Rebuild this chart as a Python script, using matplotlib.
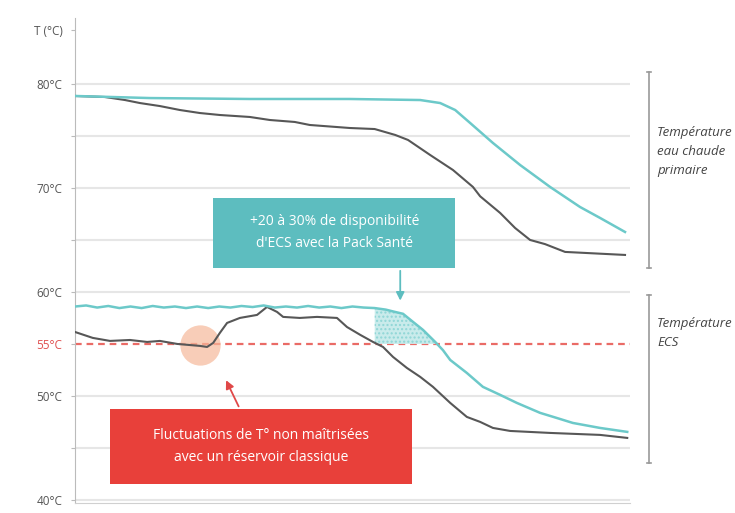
import numpy as np
import matplotlib
matplotlib.use('Agg')
import matplotlib.pyplot as plt
from matplotlib.patches import Rectangle

plt.rcParams['font.family'] = ['Open Sans', 'DejaVu Sans']

# Primary hot water temperature (upper pair of curves)
prim_x_pack = [0, 13.5, 31.5, 49.5, 62.2, 65.8, 68.5, 71.2, 75.3, 80.2, 85.6,
               91.0, 94.6, 99.1]
prim_y_pack = [78.85, 78.65, 78.56, 78.56, 78.46, 78.17, 77.5, 76.25, 74.33,
               72.21, 70.1, 68.17, 67.12, 65.77]
prim_x_std = [0, 5.4, 9.0, 11.7, 15.3, 18.9, 22.5, 26.1, 31.5, 35.1, 39.6,
              42.3, 49.5, 54.0, 57.7, 60.0, 64.0, 68.1, 71.7, 73.0, 76.6,
              79.3, 82.0, 84.7, 88.3, 99.1]
prim_y_std = [78.85, 78.75, 78.46, 78.17, 77.88, 77.5, 77.21, 77.02, 76.83,
              76.54, 76.35, 76.06, 75.77, 75.67, 75.1, 74.62, 73.17, 71.73,
              70.1, 69.2, 67.6, 66.15, 65.0, 64.6, 63.85, 63.56]

# Domestic hot water (ECS) temperature (lower pair of curves)
ecs_x_pack = [0, 2, 4, 6, 8, 10, 12, 14, 16, 18, 20, 22, 24, 26, 28, 30, 32,
              34, 36, 38, 40, 42, 44, 46, 48, 50, 52, 54, 56, 57.5, 59.1,
              60.9, 62.7, 64.9, 66.3, 67.6, 70.6, 73.5, 76.6, 79.6, 83.8,
              86.8, 89.7, 94.6, 99.5]
ecs_y_pack = [58.6, 58.7, 58.5, 58.65, 58.45, 58.6, 58.45, 58.65, 58.5,
              58.6, 58.45, 58.6, 58.45, 58.6, 58.5, 58.65, 58.55, 58.7,
              58.5, 58.6, 58.5, 58.65, 58.5, 58.6, 58.45, 58.6, 58.5, 58.45,
              58.3, 58.1, 57.9, 57.12, 56.35, 55.19, 54.4, 53.46, 52.21,
              50.87, 50.1, 49.33, 48.37, 47.88, 47.4, 46.92, 46.54]
ecs_x_std = [0, 3.2, 6.3, 9.9, 13.0, 15.3, 18.4, 22.5, 23.8, 24.9, 26.1,
             27.4, 29.7, 32.8, 34.6, 36.4, 37.5, 40.5, 43.6, 47.2, 49.0, 51.4,
             53.7, 55.5, 57.3, 59.8, 62.2, 64.5, 67.6, 70.6, 73.0, 75.3, 78.4,
             85.6, 94.6, 99.5]
ecs_y_std = [56.15, 55.58, 55.29, 55.38, 55.19, 55.29, 55.0, 54.81, 54.71,
             55.1, 56.06, 57.02, 57.5, 57.79, 58.56, 58.08, 57.6, 57.5, 57.6,
             57.5, 56.63, 55.87, 55.19, 54.71, 53.75, 52.69, 51.83, 50.87,
             49.33, 47.98, 47.5, 46.92, 46.63, 46.44, 46.25, 45.96]

setpoint = 55
grid_levels = [40, 45, 50, 60, 65, 70, 75, 80]
tick_vals = [40, 45, 50, 55, 60, 65, 70, 75, 80, 85.2]
tick_labels = ['40°C', '', '50°C', '55°C', '60°C', '', '70°C', '', '80°C',
               'T (°C)']

TEAL = '#6cc9c9'
TEAL_BOX = '#5dbdbf'
DARK = '#575757'
RED = '#e8403a'
GRID = '#e6e6e6'

fig = plt.figure(figsize=(7.35, 5.13), dpi=100)
ax = fig.add_axes([75 / 735, 1 - 503 / 513, 565 / 735, 485 / 513])
ax.set_xlim(0, 101.8)
ax.set_ylim(39.7, 86.35)

ax.hlines(grid_levels, 0, 100, color=GRID, lw=1.5, zorder=1)
ax.hlines(setpoint, 0, 100, color='#ea6b66', lw=1.6, linestyles=(0, (3, 2.2)),
          zorder=2)

ax.plot(prim_x_std, prim_y_std, color=DARK, lw=1.5, zorder=3)
ax.plot(prim_x_pack, prim_y_pack, color=TEAL, lw=1.8, zorder=4)

# highlight where the setpoint is not held
ax.plot([22.5], [54.9], 'o', ms=29, color='#f6b99a', alpha=0.7, mec='none',
        zorder=2)

x = np.array(ecs_x_pack)
y = np.array(ecs_y_pack)
ax.fill_between(x, y, setpoint, where=(x >= 54) & (y >= setpoint),
                interpolate=True, facecolor='#c9ebeb', edgecolor='#8fd6d6',
                hatch='....', lw=0, zorder=2)
ax.plot(ecs_x_std, ecs_y_std, color=DARK, lw=1.5, zorder=3)
ax.plot(ecs_x_pack, ecs_y_pack, color=TEAL, lw=1.8, zorder=4)

# callout boxes
ax.add_patch(Rectangle((24.9, 62.3), 43.6, 6.75, facecolor=TEAL_BOX,
                       edgecolor='none', zorder=5))
ax.text(46.7, 65.7, "+20 à 30% de disponibilité\nd'ECS avec la Pack Santé",
        color='white', fontsize=10, ha='center', va='center',
        linespacing=1.6, zorder=6)
ax.annotate('', xy=(58.6, 58.9), xytext=(58.6, 62.3),
            arrowprops=dict(arrowstyle='-|>', color=TEAL_BOX, lw=1.3,
                            mutation_scale=12), zorder=6)

ax.add_patch(Rectangle((6.3, 41.55), 54.4, 7.2, facecolor=RED,
                       edgecolor='none', zorder=5))
ax.text(33.5, 45.15, 'Fluctuations de T° non maîtrisées\navec un réservoir classique',
        color='white', fontsize=10, ha='center', va='center',
        linespacing=1.6, zorder=6)
ax.annotate('', xy=(27.0, 51.75), xytext=(29.7, 48.75),
            arrowprops=dict(arrowstyle='-|>', color='#e04848', lw=1.3,
                            mutation_scale=12), zorder=6)

# brackets on the right
for top, bot in [(81.15, 62.3), (59.7, 43.55)]:
    ax.plot([103.4, 103.4], [top, bot], color='#999999', lw=1.2,
            clip_on=False)
    ax.plot([103.0, 103.8], [top, top], color='#999999', lw=1.2,
            clip_on=False)
    ax.plot([103.0, 103.8], [bot, bot], color='#999999', lw=1.2,
            clip_on=False)
ax.text(104.9, 76.0, 'Température\neau chaude\nprimaire', fontsize=9.5,
        style='italic', color='#444444', va='top', ha='left',
        linespacing=1.6, clip_on=False)
ax.text(104.9, 57.6, 'Température\nECS', fontsize=9.5, style='italic',
        color='#444444', va='top', ha='left', linespacing=1.6,
        clip_on=False)

for s in ['top', 'right']:
    ax.spines[s].set_visible(False)
ax.spines['left'].set_color('#bbbbbb')
ax.spines['bottom'].set_color('#d0d0d0')
ax.spines['bottom'].set_bounds(0, 100)
ax.set_xticks([])
ax.set_yticks(tick_vals)
ax.set_yticklabels(tick_labels)
ax.tick_params(axis='y', length=3, color='#bbbbbb', labelsize=8.5,
               labelcolor='#555555', pad=6)
ax.get_yticklabels()[3].set_color('#e05050')

plt.savefig('out.png', dpi=100)
